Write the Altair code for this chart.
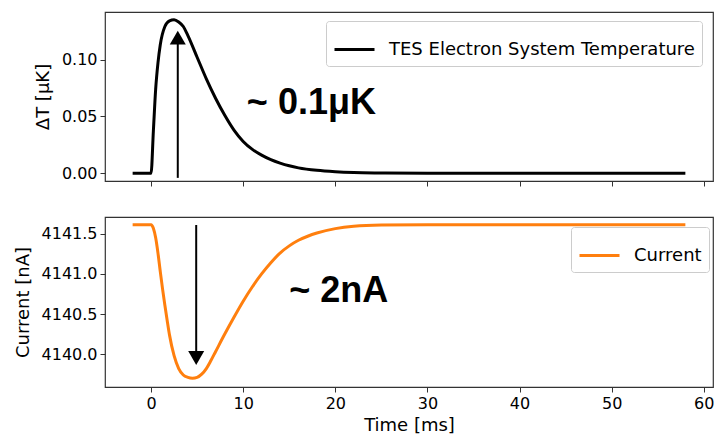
import altair as alt
import pandas as pd

# ---- data ----
t_temp = [-2, 0, 0.25, 0.5, 0.75, 1.0, 1.5, 2.0, 2.5, 3.0, 3.5, 4.0, 5.0, 6.0, 7.0, 8.0,
          9.0, 10.0, 11.0, 12.0, 13.0, 14.0, 15.0, 16.0, 18.0, 20.0, 22.0, 25.0, 30.0,
          40.0, 50.0, 58.0]
temp = [0, 0, 0.037, 0.074, 0.097, 0.113, 0.129, 0.134, 0.135, 0.133, 0.129, 0.121, 0.102,
        0.083, 0.066, 0.051, 0.038, 0.028, 0.021, 0.016, 0.012, 0.009, 0.0066, 0.0048,
        0.0026, 0.0014, 0.0007, 0.0003, 0.0, 0.0, 0.0, 0.0]

t_cur = [-2, 0, 0.25, 0.5, 0.75, 1.0, 1.25, 1.5, 1.75, 2.0, 2.5, 3.0, 3.5, 4.0, 4.5, 5.0,
         5.5, 6.0, 6.5, 7.0, 8.0, 9.0, 10.0, 11.0, 12.0, 13.0, 14.0, 15.0, 16.0, 17.0,
         18.0, 20.0, 22.0, 25.0, 30.0, 40.0, 50.0, 58.0]
cur = [4141.614, 4141.614, 4141.57, 4141.45, 4141.26, 4141.03, 4140.81, 4140.61, 4140.42,
       4140.24, 4139.98, 4139.82, 4139.74, 4139.71, 4139.70, 4139.71, 4139.75, 4139.82,
       4139.92, 4140.03, 4140.25, 4140.46, 4140.66, 4140.84, 4141.00, 4141.14, 4141.26,
       4141.35, 4141.42, 4141.47, 4141.51, 4141.565, 4141.595, 4141.61, 4141.614,
       4141.614, 4141.614, 4141.614]

temp_label = "TES Electron System Temperature"
cur_label = "Current"

x_ticks = [0, 10, 20, 30, 40, 50, 60]
temp_ticks = [0.0, 0.05, 0.10]
cur_ticks = [4140.0, 4140.5, 4141.0, 4141.5]

# annotation arrows (time, tail value, head end value, head centre value)
top_arrow_t = [2.9]
top_arrow_from = [-0.004]
top_arrow_to = [0.115]
top_head = [0.1192]
bot_arrow_t = [4.9]
bot_arrow_from = [4141.61]
bot_arrow_to = [4139.98]
bot_head = [4139.952]

top_text = ["~ 0.1μK"]
top_text_t = [10.4]
top_text_v = [0.0519]
bot_text = ["~ 2nA"]
bot_text_t = [15.0]
bot_text_v = [4140.646]

# ---- tables ----
df_temp = pd.DataFrame({"t": t_temp, "v": temp, "s": temp_label})
df_cur = pd.DataFrame({"t": t_cur, "v": cur, "s": cur_label})
df_ta = pd.DataFrame({"t": top_arrow_t, "a": top_arrow_from, "b": top_arrow_to, "h": top_head})
df_ba = pd.DataFrame({"t": bot_arrow_t, "a": bot_arrow_from, "b": bot_arrow_to, "h": bot_head})
df_tt = pd.DataFrame({"t": top_text_t, "v": top_text_v, "txt": top_text})
df_bt = pd.DataFrame({"t": bot_text_t, "v": bot_text_v, "txt": bot_text})

W = 608
xscale = alt.Scale(domain=[-5, 61], nice=False, zero=False)


def legend(x, y):
    return alt.Legend(
        title=None, orient="none", legendX=x, legendY=y,
        symbolType="stroke", symbolSize=1600, symbolStrokeWidth=3,
        labelFontSize=18, labelFont="DejaVu Sans", labelColor="black",
        labelOffset=13, labelLimit=600, padding=7,
        fillColor="rgba(255,255,255,0.8)", strokeColor="#cccccc", cornerRadius=3,
    )


# ---- top panel ----
top_y = alt.Scale(domain=[-0.00675, 0.14175], nice=False, zero=False)
top_line = alt.Chart(df_temp).mark_line(strokeWidth=3, interpolate="monotone").encode(
    x=alt.X("t:Q", scale=xscale,
            axis=alt.Axis(values=x_ticks, labels=False, title=None)),
    y=alt.Y("v:Q", scale=top_y,
            axis=alt.Axis(values=temp_ticks, format=".2f", title="ΔT [μK]")),
    color=alt.Color("s:N", scale=alt.Scale(domain=[temp_label], range=["#000000"]),
                    legend=legend(221, 9)),
)
top_rule = alt.Chart(df_ta).mark_rule(strokeWidth=2, color="black").encode(
    x="t:Q", y="a:Q", y2="b:Q")
top_tri = alt.Chart(df_ta).mark_point(shape="triangle-up", filled=True, size=256,
                                      color="black", opacity=1).encode(x="t:Q", y="h:Q")
top_txt = alt.Chart(df_tt).mark_text(font="Liberation Sans", fontWeight="bold", fontSize=36,
                                     align="left", baseline="alphabetic", color="black").encode(
    x="t:Q", y="v:Q", text="txt:N")
top = alt.layer(top_line, top_rule, top_tri, top_txt).properties(width=W, height=169)

# ---- bottom panel ----
bot_y = alt.Scale(domain=[4139.59, 4141.71], nice=False, zero=False)
bot_line = alt.Chart(df_cur).mark_line(strokeWidth=3, interpolate="monotone").encode(
    x=alt.X("t:Q", scale=xscale,
            axis=alt.Axis(values=x_ticks, format="d", title="Time [ms]", labelPadding=3,
                          titlePadding=5)),
    y=alt.Y("v:Q", scale=bot_y,
            axis=alt.Axis(values=cur_ticks, format=".1f", title="Current [nA]")),
    color=alt.Color("s:N", scale=alt.Scale(domain=[cur_label], range=["#ff7f0e"]),
                    legend=legend(466, 10)),
)
bot_rule = alt.Chart(df_ba).mark_rule(strokeWidth=2, color="black").encode(
    x="t:Q", y="a:Q", y2="b:Q")
bot_tri = alt.Chart(df_ba).mark_point(shape="triangle-down", filled=True, size=256,
                                      color="black", opacity=1).encode(x="t:Q", y="h:Q")
bot_txt = alt.Chart(df_bt).mark_text(font="Liberation Sans", fontWeight="bold", fontSize=36,
                                     align="left", baseline="alphabetic", color="black").encode(
    x="t:Q", y="v:Q", text="txt:N")
bot = alt.layer(bot_line, bot_rule, bot_tri, bot_txt).properties(width=W, height=170)

chart = alt.vconcat(top, bot, spacing=28).resolve_scale(
    color="independent", y="independent"
).resolve_legend(color="independent").properties(
    padding={"left": 5, "top": 3, "right": 0, "bottom": 0},
    background="white",
).configure_view(
    stroke="#333333", strokeWidth=1.2
).configure_axis(
    domain=False, grid=False, tickColor="#333333", tickSize=5, tickWidth=1,
    labelFont="DejaVu Sans", labelFontSize=16, labelColor="black", labelPadding=3,
    titleFont="DejaVu Sans", titleFontSize=18, titleFontWeight="normal",
    titleColor="black", titlePadding=9,
)

chart.save("out.html", embed_options={"renderer": "svg", "actions": False})
